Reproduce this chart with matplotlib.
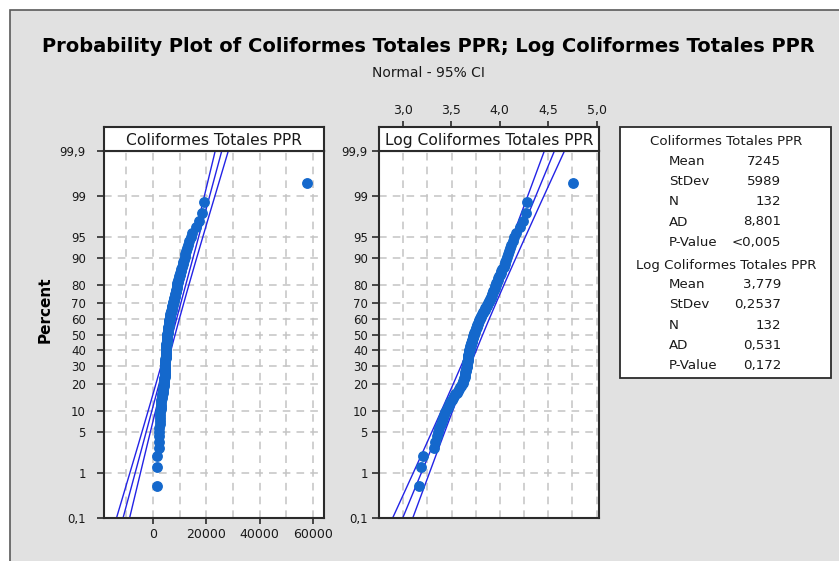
import numpy as np
import matplotlib
matplotlib.use("Agg")
import matplotlib.pyplot as plt
from matplotlib.patches import Rectangle
from statistics import NormalDist

W, H = 839, 561

# log10 of Coliformes Totales PPR, sorted (n = 132)
log_ppr = np.array([
    3.161, 3.189, 3.202, 3.315, 3.330, 3.345, 3.358, 3.375, 3.388, 3.400,
    3.412, 3.424, 3.436, 3.449, 3.462, 3.475, 3.488, 3.500, 3.513, 3.526,
    3.540, 3.553, 3.566, 3.578, 3.590, 3.600, 3.610, 3.617, 3.621, 3.625,
    3.630, 3.634, 3.638, 3.642, 3.644, 3.647, 3.650, 3.652, 3.655, 3.658,
    3.660, 3.662, 3.664, 3.666, 3.668, 3.670, 3.671, 3.673, 3.675, 3.677,
    3.678, 3.680, 3.684, 3.687, 3.691, 3.694, 3.698, 3.701, 3.705, 3.708,
    3.712, 3.715, 3.719, 3.722, 3.725, 3.727, 3.729, 3.734, 3.739, 3.744,
    3.749, 3.753, 3.758, 3.763, 3.768, 3.773, 3.778, 3.783, 3.788, 3.793,
    3.798, 3.803, 3.809, 3.815, 3.821, 3.828, 3.835, 3.841, 3.848, 3.855,
    3.862, 3.869, 3.876, 3.883, 3.890, 3.897, 3.903, 3.909, 3.915, 3.921,
    3.927, 3.933, 3.939, 3.945, 3.951, 3.957, 3.962, 3.969, 3.976, 3.983,
    3.990, 3.998, 4.006, 4.014, 4.022, 4.040, 4.048, 4.056, 4.064, 4.072,
    4.080, 4.090, 4.102, 4.115, 4.130, 4.148, 4.168, 4.205, 4.240, 4.268,
    4.281, 4.760,
])
ppr = 10 ** log_ppr

# fitted normal parameters and goodness of fit
mean_raw, sd_raw = 7245, 5989
mean_log, sd_log = 3.779, 0.2537
n_obs = 132
ad_raw, p_raw = "8,801", "<0,005"
ad_log, p_log = "0,531", "0,172"

pct_ticks = [0.1, 1, 5, 10, 20, 30, 40, 50, 60, 70, 80, 90, 95, 99, 99.9]

nd = NormalDist()
z_ticks = [nd.inv_cdf(p / 100) for p in pct_ticks]
pct_labels = [("%g" % p).replace(".", ",") for p in pct_ticks]
zlim = (z_ticks[0], z_ticks[-1])

# Benard median ranks
ranks = np.arange(1, n_obs + 1)
z_pts = np.array([nd.inv_cdf((i - 0.3) / (n_obs + 0.4)) for i in ranks])

DOT = "#1468cc"
LINE = "#2323e6"
EDGE = "#2b2b2b"
TXT = "#1a1a1a"


def fbox(x0, y0, x1, y1):
    return [x0 / W, 1 - y1 / H, (x1 - x0) / W, (y1 - y0) / H]


def comma(v, nd_=1):
    return ("%.*f" % (nd_, v)).replace(".", ",")


fig = plt.figure(figsize=(W / 100, H / 100), dpi=100, facecolor="white")
fig.add_artist(Rectangle((10 / W, -0.1), 1.1, 1.1 - 10 / H, transform=fig.transFigure,
                         facecolor="#e1e1e1", edgecolor="#5a5a5a", lw=1.2,
                         zorder=-10))

fig.text(428 / W, 1 - 47 / H,
         "Probability Plot of Coliformes Totales PPR; Log Coliformes Totales PPR",
         ha="center", va="center", fontsize=14, weight="bold", color="black")
fig.text(428 / W, 1 - 73 / H, "Normal - 95% CI", ha="center", va="center",
         fontsize=10, color=TXT)
fig.text(45 / W, 1 - 310 / H, "Percent", rotation=90, ha="center", va="center",
         fontsize=11, weight="bold", color="black")


def panel(x0, x1, data, mu, sd, xlim, title, ypad):
    ax = fig.add_axes(fbox(x0, 151, x1, 518), zorder=2)
    ax.set_xlim(*xlim)
    ax.set_ylim(*zlim)
    ax.set_yticks(z_ticks)
    ax.set_yticklabels(pct_labels)
    ax.set_axisbelow(True)
    ax.grid(True, which="both", color="#c4c4c4", lw=1.1, ls=(0, (5, 4)))

    # fit line and 95% confidence band
    zz = np.linspace(zlim[0], zlim[1], 200)
    fit = mu + sd * zz
    half = 1.96 * sd * np.sqrt(1 / n_obs + zz ** 2 / (2 * n_obs))
    for curve in (fit - half, fit, fit + half):
        ax.plot(curve, zz, color=LINE, lw=1.0, zorder=2)
    ax.plot(data, z_pts, "o", color=DOT, ms=6.8, mec=DOT, zorder=3, clip_on=False)

    for s in ax.spines.values():
        s.set_color(EDGE)
        s.set_linewidth(1.5)
    ax.tick_params(axis="y", length=5, width=1.2, color=EDGE, labelsize=8.5,
                   labelcolor=TXT, pad=ypad)

    hdr = fig.add_axes(fbox(x0, 127, x1, 151), zorder=2)
    hdr.set_xlim(*xlim)
    hdr.set_yticks([])
    hdr.set_xticks([])
    for s in hdr.spines.values():
        s.set_color(EDGE)
        s.set_linewidth(1.5)
    hdr.text(0.5, 0.45, title, transform=hdr.transAxes, ha="center", va="center",
             fontsize=11.2, color=TXT)
    return ax, hdr


# raw scale
ax1, hdr1 = panel(104, 324, ppr, mean_raw, sd_raw, (-18400, 64100),
                  "Coliformes Totales PPR", ypad=8)
ax1.set_xticks([0, 20000, 40000, 60000])
ax1.set_xticks([-10000, 10000, 30000, 50000], minor=True)
ax1.tick_params(axis="x", which="major", length=4, width=1.2, color=EDGE,
                labelsize=9, labelcolor=TXT, pad=3)
ax1.tick_params(axis="x", which="minor", length=0)

# log scale
ax2, hdr2 = panel(379, 599, log_ppr, mean_log, sd_log, (2.756, 5.024),
                  "Log Coliformes Totales PPR", ypad=3)
ax2.set_xticks(np.arange(2.75, 5.01, 0.25))
ax2.tick_params(axis="x", length=0, labelbottom=False)
top = np.arange(3.0, 5.01, 0.5)
hdr2.set_xticks(top)
hdr2.set_xticklabels([comma(v) for v in top])
hdr2.tick_params(axis="x", top=True, bottom=False, labeltop=True, labelbottom=False,
                 length=4, width=1.2, color=EDGE, labelsize=9, labelcolor=TXT, pad=3)

# summary table
fig.add_artist(Rectangle((620 / W, 1 - 378 / H), 211 / W, 251 / H,
                         transform=fig.transFigure, facecolor="white",
                         edgecolor=EDGE, lw=1.3))
stat_names = ["Mean", "StDev", "N", "AD", "P-Value"]
groups = [
    ("Coliformes Totales PPR", 141.7,
     [str(mean_raw), str(sd_raw), str(n_obs), ad_raw, p_raw]),
    ("Log Coliformes Totales PPR", 265,
     [comma(mean_log, 3), comma(sd_log, 4), str(n_obs), ad_log, p_log]),
]
for name, y0, vals in groups:
    fig.text(726 / W, 1 - y0 / H, name, ha="center", va="center", fontsize=9.6,
             color=TXT)
    for k, (lab, val) in enumerate(zip(stat_names, vals)):
        y = y0 + 19.7 + 20.2 * k
        fig.text(669 / W, 1 - y / H, lab, ha="left", va="center", fontsize=9.6,
                 color=TXT)
        fig.text(781 / W, 1 - y / H, val, ha="right", va="center", fontsize=9.6,
                 color=TXT)

fig.savefig("out.png", dpi=100, facecolor=fig.get_facecolor())
